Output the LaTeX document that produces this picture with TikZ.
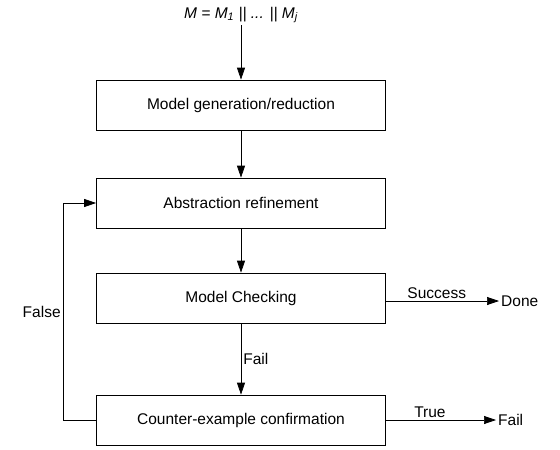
\documentclass[tikz,border=0pt]{standalone}
\usepackage{fontspec}
\setmainfont{Liberation Sans}
\usetikzlibrary{arrows.meta,positioning}

\begin{document}
\begin{tikzpicture}[x=1pt, y=-1pt,
    stage/.style={draw=borderColour, line width=0.7pt, minimum width=289pt, minimum height=50pt, font=\fontsize{15.5}{18}\selectfont},
    plain/.style={font=\fontsize{15.5}{18}\selectfont, inner sep=2pt},
    flow/.style={line width=0.7pt, -{Triangle[length=12pt,width=8pt]}}]
    \definecolor{borderColour}{HTML}{000000}

    \useasboundingbox (0,0) rectangle (560,450);

    % Input model
    \node[plain] (input) at (241,15) {\itshape M = M\textsubscript{1} || ... || M\textsubscript{j}};

    % Stages
    \node[stage] (generate) at (241,105) {Model generation/reduction};
    \node[stage] (refine) at (241,203) {Abstraction refinement};
    \node[stage] (check) at (241,298) {Model Checking};
    \node[stage] (confirm) at (241,420) {Counter-example confirmation};

    % Results
    \node[plain, anchor=west] (done) at (499,301) {Done};
    \node[plain, anchor=west] (failed) at (496,420) {Fail};

    % Main flow
    \draw[flow] (input) -- (generate);
    \draw[flow] (generate) -- (refine);
    \draw[flow] (refine) -- (check);
    \draw[flow] (check) -- node[plain, right] {Fail} (confirm);

    % Exits
    \draw[flow] (check.east |- done) -- node[plain, above, pos=0.45] {Success} (done);
    \draw[flow] (confirm) -- node[plain, above, pos=0.4] {True} (failed);

    % Feedback loop
    \coordinate (bend) at (63,0);
    \draw[flow] (confirm.west) -- (bend |- confirm.west) -- node[plain, left, pos=0.5] {False} (bend |- refine.west) -- (refine.west);

\end{tikzpicture}
\end{document}
